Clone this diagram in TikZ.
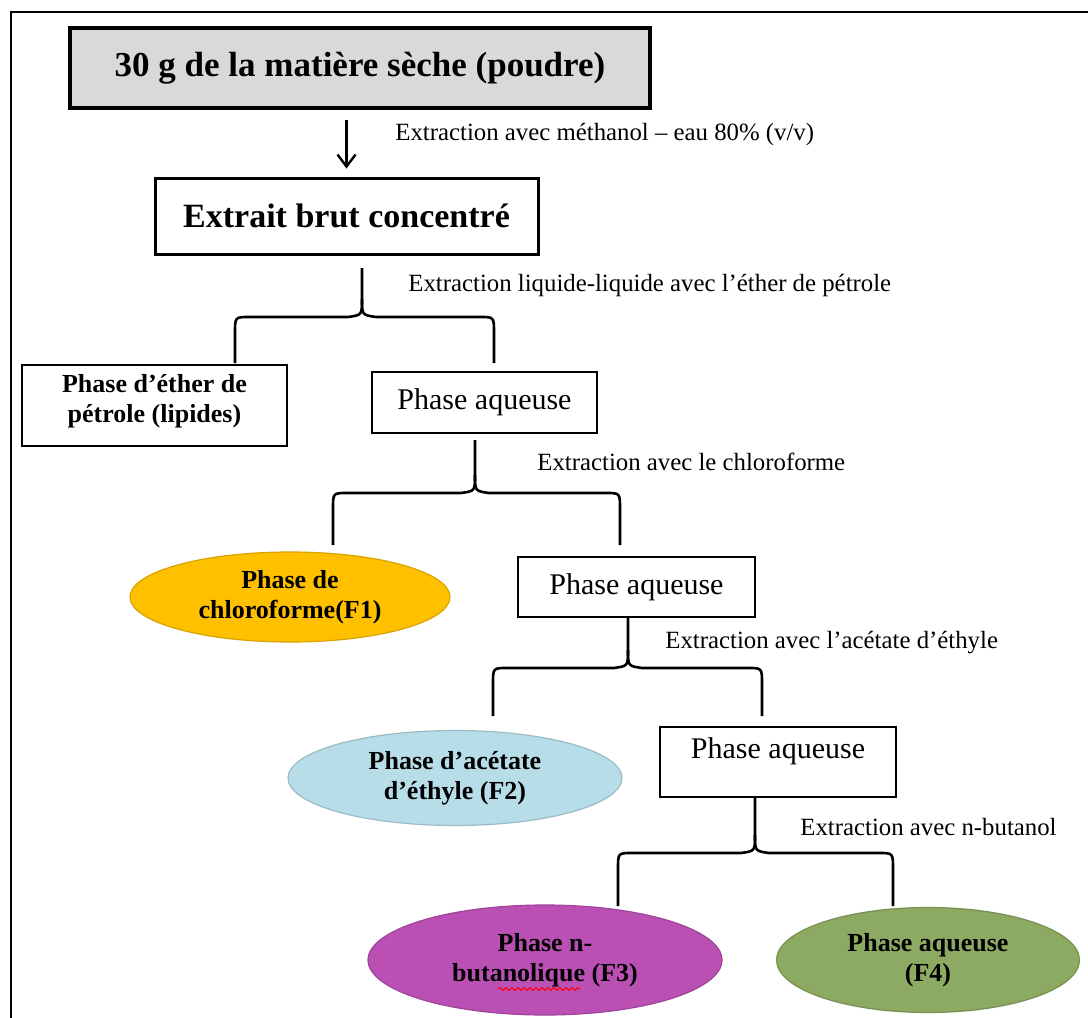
\documentclass[tikz,border=0pt]{standalone}
\usepackage{fontspec}
\setmainfont{Liberation Serif}
\usetikzlibrary{shapes.geometric}
\usetikzlibrary{arrows.meta}
\usetikzlibrary{decorations.pathmorphing}

\definecolor{gris}{HTML}{D9D9D9}
\definecolor{jaune}{HTML}{FFC000}
\definecolor{bleuclair}{HTML}{B7DDE8}
\definecolor{violet}{HTML}{BB50B4}
\definecolor{vert}{HTML}{8DAA62}

\tikzset{
    boite/.style={draw, line width=1.3pt, align=center, inner sep=2pt},
    aqueuse/.style={boite, font=\fontsize{15}{17}\selectfont},
    phase/.style={ellipse, draw=#1!85!black, fill=#1, line width=0.6pt, inner sep=0pt, align=center,
        font=\bfseries\fontsize{13}{15}\selectfont},
    etiquette/.style={anchor=west, inner sep=0pt, font=\fontsize{12.4}{14}\selectfont},
    accolade/.style={line width=1.3pt},
}

\newcommand{\fourche}[6]{%
    \draw[accolade] (#1,#2) -- (#1,#3-18) .. controls (#1,#3-2) .. (#1-14,#3) -- (#4+14,#3) .. controls (#4,#3) .. (#4,#3+16) -- (#4,#6);
    \draw[accolade] (#1,#3-18) .. controls (#1,#3-2) .. (#1+14,#3) -- (#5-14,#3) .. controls (#5,#3) .. (#5,#3+16) -- (#5,#6);
}

\begin{document}
\begin{tikzpicture}[x=0.5pt, y=-0.5pt]
                \useasboundingbox (0, 0) rectangle (1088, 1018);
                \draw[line width=1pt] (11, 1018) -- (11, 12) -- (1088, 12);

                \node[boite, fill=gris, line width=2.25pt, minimum width=290pt, minimum height=40pt,
                    font=\bfseries\fontsize{17.5}{19}\selectfont] (matiere) at (360, 68) {30 g de la matière sèche (poudre)};
                \node[boite, line width=1.5pt, minimum width=191.5pt, minimum height=38pt,
                    font=\bfseries\fontsize{17}{19}\selectfont] (brut) at (346.5, 216) {Extrait brut concentré};
                \draw[line width=1.2pt, -{Straight Barb[length=6pt, width=9pt]}] ([yshift=-5pt]matiere.south -| brut.north) -- ([yshift=4pt]brut.north);
                \node[etiquette] (lmeth) at (395, 135) {Extraction avec méthanol – eau 80\% (v/v)};

                \fourche{362}{268}{317}{235}{494}{363}
                \node[etiquette] (lether) at (408, 286) {Extraction liquide-liquide avec l’éther de pétrole};
                \node[boite, minimum width=132.5pt, minimum height=40.5pt, text depth=7pt,
                    font=\bfseries\fontsize{13}{15}\selectfont] (ether) at (154.5, 405.5) {Phase d’éther de\\pétrole (lipides)};
                \node[aqueuse, minimum width=112.5pt, minimum height=30.5pt] (aq1) at (484.5, 402.5) {Phase aqueuse};

                \fourche{475}{440}{493}{333}{620}{545}
                \node[etiquette] (lchloro) at (537, 462) {Extraction avec  le chloroforme};
                \node[phase=jaune, minimum width=160pt, minimum height=45pt] (F1) at (290, 597) {Phase de\\chloroforme(F1)};
                \node[aqueuse, minimum width=118.5pt, minimum height=30pt] (aq2) at (636.5, 587) {Phase aqueuse};

                \fourche{628}{618}{668}{493}{762}{716}
                \node[etiquette] (lacet) at (665, 643) {Extraction avec l’acétate d’éthyle};
                \node[phase=bleuclair, minimum width=167pt, minimum height=47.5pt] (F2) at (455, 778) {Phase d’acétate\\d’éthyle (F2)};
                \node[aqueuse, minimum width=118pt, minimum height=35pt, text depth=14pt] (aq3) at (778, 762) {Phase aqueuse};

                \fourche{755}{797}{853}{618}{893}{906}
                \node[etiquette] (lbut) at (800, 827) {Extraction avec n-butanol};
                \node[phase=violet, minimum width=177pt, minimum height=55pt] (F3) at (545, 960) {Phase n-\\butanolique (F3)};
                \node[phase=vert, minimum width=151.5pt, minimum height=52.5pt] (F4) at (928, 960) {Phase aqueuse\\(F4)};
                \draw[red, line width=0.5pt, decorate, decoration={snake, amplitude=0.7pt, segment length=3pt}] (498, 989) -- (580, 989);
            \end{tikzpicture}
\end{document}
